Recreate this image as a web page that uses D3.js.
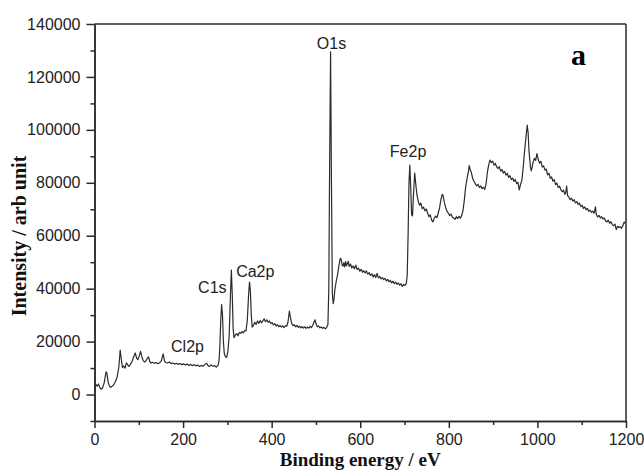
<!DOCTYPE html>
<html>
<head>
<meta charset="utf-8">
<script src="https://cdn.jsdelivr.net/npm/d3@7"></script>
<style>
  html, body { margin: 0; padding: 0; background: #fff; }
  svg { display: block; }
</style>
</head>
<body>
<svg id="chart" width="644" height="473"></svg>
<script>
// XPS survey spectrum: binding energy (eV) vs. intensity (counts)
const energy = [
  0, 3, 6, 9, 12, 15, 18, 22, 26, 28, 31, 35, 39, 43, 47, 51, 55, 58, 60, 63,
  66, 69, 72, 75, 78, 81, 85, 89, 92, 95, 98, 101, 104, 107, 110, 113, 116, 119, 122, 125,
  128, 131, 135, 139, 143, 147, 151, 155, 158, 161, 165, 169, 173, 177, 181, 185, 189, 193, 197, 201,
  205, 209, 213, 217, 221, 225, 229, 233, 237, 241, 245, 249, 253, 256, 259, 263, 267, 271, 275, 279,
  281, 283, 285, 287, 289, 291, 293, 295, 298, 301, 304, 307, 309, 311, 313, 315, 318, 321, 324, 327,
  330, 333, 336, 339, 342, 345, 348, 350, 352, 354, 356, 359, 362, 365, 368, 371, 374, 377, 380, 383,
  386, 389, 392, 395, 398, 401, 404, 407, 410, 413, 416, 419, 422, 425, 428, 431, 434, 437, 440, 442,
  445, 448, 451, 454, 457, 460, 463, 466, 469, 472, 475, 478, 481, 484, 487, 490, 493, 496, 498, 500,
  503, 506, 509, 512, 515, 518, 521, 524, 527, 529, 531, 533, 535, 537, 539, 541, 543, 546, 549, 552,
  555, 557, 559, 561, 563, 565, 567, 569, 571, 573, 575, 578, 581, 584, 587, 590, 593, 596, 599, 602,
  605, 608, 611, 614, 617, 620, 623, 626, 629, 632, 635, 638, 641, 644, 647, 650, 653, 656, 659, 662,
  665, 668, 671, 674, 677, 680, 683, 686, 689, 692, 695, 698, 701, 704, 706, 708, 710, 712, 714, 716,
  718, 720, 723, 725, 728, 731, 734, 737, 740, 743, 746, 749, 752, 755, 758, 761, 764, 767, 770, 773,
  776, 779, 782, 785, 787, 790, 793, 796, 799, 802, 805, 808, 811, 814, 817, 820, 823, 826, 829, 832,
  835, 838, 841, 844, 846, 848, 851, 854, 857, 860, 863, 866, 869, 872, 875, 878, 881, 884, 887, 890,
  893, 896, 899, 902, 905, 908, 911, 914, 917, 920, 923, 926, 929, 932, 935, 938, 941, 944, 947, 950,
  953, 956, 959, 962, 965, 968, 971, 974, 977, 979, 981, 984, 986, 988, 990, 993, 996, 999, 1002, 1005,
  1008, 1011, 1014, 1017, 1020, 1023, 1026, 1029, 1032, 1035, 1038, 1041, 1044, 1047, 1050, 1053, 1056, 1059, 1062, 1064,
  1066, 1068, 1071, 1074, 1077, 1080, 1083, 1086, 1089, 1092, 1095, 1098, 1101, 1104, 1107, 1110, 1113, 1116, 1119, 1122,
  1125, 1128, 1131, 1133, 1136, 1139, 1142, 1145, 1148, 1151, 1154, 1157, 1160, 1163, 1166, 1169, 1172, 1175, 1178, 1181,
  1184, 1187, 1190, 1193, 1196, 1198
];
const intensity = [
  1500, 3800, 3200, 4000, 2600, 2000, 2400, 4500, 8600, 8000, 4500, 2800, 3000, 3600, 4800, 6500, 10500, 16800, 14000, 10200,
  10800, 10000, 12000, 11200, 10600, 11400, 12600, 14500, 15700, 13800, 13200, 14600, 16300, 14200, 12800, 12300, 12700, 13600, 14200, 12400,
  11900, 12200, 11800, 12100, 11600, 12000, 12800, 15400, 12600, 12100, 11900, 12300, 11700, 11900, 11500, 11800, 11400, 11700, 11300, 11600,
  11200, 11500, 11000, 11400, 10900, 11300, 10800, 11200, 10600, 11000, 10700, 11300, 11800, 11000, 10600, 11200, 10700, 10900, 10400, 11000,
  12500, 18000, 28000, 34000, 30000, 20000, 15500, 14500, 14000, 16000, 22000, 38000, 47000, 38000, 25000, 21500, 22500, 23000, 22200, 23400,
  23100, 23800, 23300, 24200, 24000, 28000, 38000, 42500, 39000, 30000, 25500, 26200, 27300, 26500, 27800, 26900, 28000, 27100, 27800, 28600,
  27500, 28200, 27300, 27800, 26800, 27200, 26300, 26800, 25900, 26400, 25600, 26100, 25500, 25900, 25300, 26000, 25800, 27500, 31500, 29500,
  27000, 26000, 26400, 25600, 26100, 25400, 25800, 25200, 25700, 25100, 25600, 25000, 25500, 25100, 25800, 25300, 26200, 27600, 28200, 26800,
  25600, 25900, 25200, 25500, 25000, 25400, 24800, 25300, 26500, 40000, 90000, 129500, 80000, 38000, 34300, 36500, 40000, 43000, 45500, 49000,
  51500, 51000, 49000, 48500, 49800, 48200, 50200, 48600, 49500, 50300, 48400, 49300, 47800, 48600, 47500, 48900, 47200, 47800, 46600, 47300,
  46200, 46800, 45900, 46700, 45500, 46100, 45000, 45600, 44400, 45300, 44200, 45800, 44100, 44600, 43700, 44200, 43400, 43900, 42900, 43500,
  42600, 43100, 42200, 42800, 41900, 42500, 41600, 42200, 41300, 41900, 40800, 41600, 41200, 42000, 45000, 60000, 80000, 86700, 78000, 68000,
  67500, 75000, 83700, 80000, 75500, 73000, 71500, 72300, 70200, 70800, 69400, 70100, 68600, 67200, 67900, 66000, 65200, 66500, 67400, 66800,
  68500, 70500, 73500, 75600, 75200, 72500, 70600, 69200, 68500, 67600, 68200, 67000, 66700, 66200, 67200, 66500, 67300, 66600, 67600, 69500,
  73500, 78500, 81500, 84000, 86500, 85000, 83800, 81500, 80500, 79600, 78800, 79400, 78200, 78800, 77800, 78300, 77500, 79500, 84000, 86800,
  88600, 87600, 88200, 86700, 87300, 86000, 85400, 86100, 84400, 85000, 83700, 84300, 82900, 83600, 82000, 82700, 81200, 81800, 80500, 81300,
  79700, 80200, 77300, 79500, 81000, 86000, 92000, 97000, 101800, 99000, 92000, 86500, 84500, 85800, 87500, 89200, 88500, 91000, 88700, 87400,
  88100, 85900, 86400, 84800, 85200, 83000, 83600, 81700, 82200, 80600, 81200, 79300, 79900, 78200, 78700, 77400, 76600, 77200, 75600, 76300,
  78800, 75200, 74600, 73600, 74200, 73100, 73600, 72400, 72900, 71800, 72300, 71000, 71500, 70300, 70900, 69800, 70300, 69200, 69700, 68800,
  69300, 68500, 70900, 68000, 67100, 67700, 66700, 67200, 66300, 66700, 65600, 65200, 65900, 64700, 65300, 64200, 63800, 64400, 62300, 63600,
  63100, 63400, 62800, 63900, 65200, 64600
];

// Peak assignments and label anchor positions (data units)
const peakNames = ["Cl2p", "C1s", "Ca2p", "O1s", "Fe2p"];
const peakEnergy = [210, 266, 363, 535, 708];
const peakLabelY = [16000, 38500, 44500, 130500, 89700];

const xTicks = [0, 200, 400, 600, 800, 1000, 1200];
const xMinor = [100, 300, 500, 700, 900, 1100];
const yTicks = [0, 20000, 40000, 60000, 80000, 100000, 120000, 140000];
const yMinor = [-10000, 10000, 30000, 50000, 70000, 90000, 110000, 130000];

const xTitle = "Binding energy / eV";
const yTitle = "Intensity / arb unit";
const panelTag = "a";

const svg = d3.select("#chart");
const plotL = 94.5, plotR = 626, plotT = 24, plotB = 421;

const x = d3.scaleLinear().domain([0, 1200]).range([plotL, plotR]);
const y = d3.scaleLinear().domain([-10000, 140000]).range([plotB, plotT]);

const axisColor = "#2a2a2a";
const sans = "'Liberation Sans', Arial, Helvetica, sans-serif";
const serif = "'Liberation Serif', 'Times New Roman', Times, serif";

// Frame: top and right edges
svg.append("line").attr("x1", plotL).attr("x2", plotR).attr("y1", plotT).attr("y2", plotT)
  .attr("stroke", axisColor).attr("stroke-width", 1.5);
svg.append("line").attr("x1", plotR).attr("x2", plotR).attr("y1", plotT).attr("y2", plotB)
  .attr("stroke", axisColor).attr("stroke-width", 1.5);

// Minor ticks
const gxMinor = svg.append("g").attr("transform", `translate(0,${plotB})`)
  .call(d3.axisBottom(x).tickValues(xMinor).tickSize(4).tickSizeOuter(0).tickFormat(""));
const gyMinor = svg.append("g").attr("transform", `translate(${plotL},0)`)
  .call(d3.axisLeft(y).tickValues(yMinor).tickSize(4).tickSizeOuter(0).tickFormat(""));

// Major axes
const gx = svg.append("g").attr("transform", `translate(0,${plotB})`)
  .call(d3.axisBottom(x).tickValues(xTicks).tickSize(7).tickSizeOuter(0).tickPadding(6).tickFormat(d3.format("d")));
const gy = svg.append("g").attr("transform", `translate(${plotL},0)`)
  .call(d3.axisLeft(y).tickValues(yTicks).tickSize(8).tickSizeOuter(0).tickPadding(6).tickFormat(d3.format("d")));

[gxMinor, gyMinor, gx, gy].forEach(g => {
  g.select(".domain").attr("stroke", axisColor).attr("stroke-width", 1.5);
  g.selectAll(".tick line").attr("stroke", axisColor).attr("stroke-width", 1.5);
  g.selectAll(".tick text").attr("fill", "#222").style("font-family", sans).style("font-size", "16px");
});

// Spectrum trace
const pts = energy.map((e, i) => [e, intensity[i]]);
svg.append("path")
  .datum(pts)
  .attr("fill", "none")
  .attr("stroke", "#2b2b2b")
  .attr("stroke-width", 1.2)
  .attr("stroke-linejoin", "round")
  .attr("d", d3.line().x(d => x(d[0])).y(d => y(d[1])));

// Peak labels
svg.selectAll("text.peak")
  .data(peakNames)
  .join("text")
  .attr("class", "peak")
  .attr("x", (d, i) => x(peakEnergy[i]))
  .attr("y", (d, i) => y(peakLabelY[i]))
  .attr("text-anchor", "middle")
  .attr("fill", "#222")
  .style("font-family", sans)
  .style("font-size", "16px")
  .text(d => d);

// Axis titles
svg.append("text")
  .attr("x", (plotL + plotR) / 2).attr("y", 466)
  .attr("text-anchor", "middle")
  .attr("fill", "#111")
  .style("font-family", serif).style("font-weight", "bold").style("font-size", "19px")
  .text(xTitle);

svg.append("text")
  .attr("transform", "translate(26,236) rotate(-90)")
  .attr("text-anchor", "middle")
  .attr("fill", "#111")
  .style("font-family", serif).style("font-weight", "bold").style("font-size", "20px")
  .text(yTitle);

// Panel tag
svg.append("text")
  .attr("x", 571).attr("y", 65)
  .attr("fill", "#000")
  .style("font-family", serif).style("font-weight", "bold").style("font-size", "30px")
  .text(panelTag);
</script>
</body>
</html>
